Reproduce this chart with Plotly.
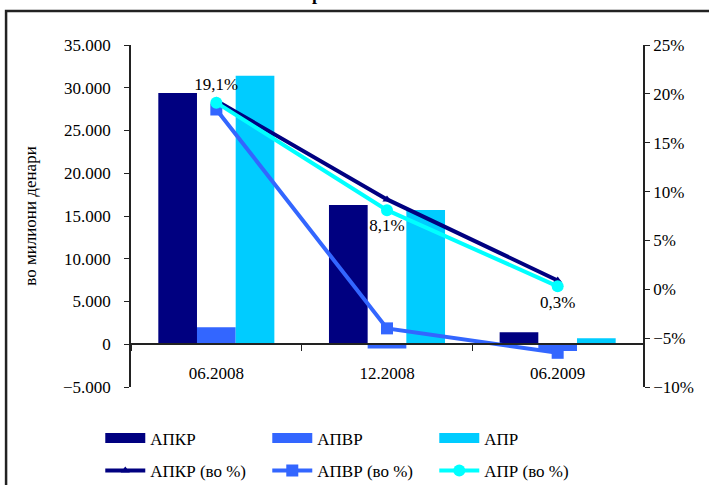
import plotly.graph_objects as go

# Periods and series
periods = ["06.2008", "12.2008", "06.2009"]

# Amounts, in millions of denars
apkr = [29400, 16300, 1400]
apvr = [2000, -500, -800]
apr = [31400, 15700, 700]

# Growth rates, in percent
apkr_pct = [19.3, 9.2, 0.9]
apvr_pct = [18.4, -4.0, -6.5]
apr_pct = [19.1, 8.1, 0.3]

bar_names = ["АПКР", "АПВР", "АПР"]
line_names = ["АПКР (во %)", "АПВР (во %)", "АПР (во %)"]

NAVY = "#000080"
BLUE = "#3366FF"
SKY = "#00CCFF"
CYAN = "#00FFFF"
FONT = "Liberation Serif"

fig = go.Figure()

# Bars on the left axis (legend shown through wide swatches below)
for name, vals, col in zip(bar_names, [apkr, apvr, apr], [NAVY, BLUE, SKY]):
    fig.add_trace(go.Bar(
        x=periods, y=vals, name=name, marker=dict(color=col, line=dict(width=0)),
        showlegend=False, legendgroup=name, yaxis="y",
    ))

# Wide rectangular legend swatches for the bar series
for name, col in zip(bar_names, [NAVY, BLUE, SKY]):
    fig.add_trace(go.Scatter(
        x=[None], y=[None], mode="lines", name=name, legendgroup=name,
        line=dict(color=col, width=12), legend="legend", hoverinfo="skip",
    ))

# Percentage lines on the right axis
fig.add_trace(go.Scatter(
    x=periods, y=apkr_pct, name=line_names[0], yaxis="y2", mode="lines+markers",
    line=dict(color=NAVY, width=4),
    marker=dict(symbol="triangle-up", size=8, color=NAVY),
    legend="legend2",
))
fig.add_trace(go.Scatter(
    x=periods, y=apvr_pct, name=line_names[1], yaxis="y2", mode="lines+markers",
    line=dict(color=BLUE, width=4),
    marker=dict(symbol="square", size=12, color=BLUE),
    legend="legend2",
))
fig.add_trace(go.Scatter(
    x=periods, y=apr_pct, name=line_names[2], yaxis="y2", mode="lines+markers+text",
    line=dict(color=CYAN, width=4),
    marker=dict(symbol="circle", size=12, color=CYAN),
    texttemplate="%{y:.1f}%",
    textposition=["top center", "bottom center", "bottom center"],
    textfont=dict(family=FONT, size=17, color="black"),
    cliponaxis=False,
    legend="legend2",
))

axis_font = dict(family=FONT, size=17, color="black")
legend_font = dict(family=FONT, size=17, color="black")

fig.update_layout(
    width=709, height=485, autosize=False,
    margin=dict(l=131, r=66, t=45, b=98, pad=0, autoexpand=False),
    paper_bgcolor="white", plot_bgcolor="white",
    separators=",.",
    font=dict(family=FONT, size=17, color="black"),
    barmode="group", bargap=0.32, bargroupgap=0,
    xaxis=dict(
        type="category", range=[-0.5, 2.5],
        anchor="free", position=0.125,
        showline=True, linecolor="#222", linewidth=1.5,
        ticks="outside", tickson="boundaries", ticklen=6, tickcolor="#222",
        tickfont=axis_font, ticklabelstandoff=14,
        showgrid=False, zeroline=False,
    ),
    yaxis=dict(
        range=[-5000, 35000], dtick=5000, tickformat=",.0f",
        showline=True, linecolor="#222", linewidth=1.5,
        ticks="outside", ticklen=5, tickcolor="#222", tickfont=axis_font,
        ticklabelstandoff=10,
        showgrid=False, zeroline=False,
        title=dict(text="во милиони денари", font=axis_font, standoff=22),
    ),
    yaxis2=dict(
        overlaying="y", side="right", range=[-10, 25], dtick=5, ticksuffix="%",
        showline=True, linecolor="#222", linewidth=1.5,
        ticks="outside", ticklen=5, tickcolor="#222", tickfont=axis_font,
        showgrid=False, zeroline=False,
    ),
    legend=dict(
        orientation="h", x=-0.06, xanchor="left", y=-0.098, yanchor="top",
        entrywidth=112, itemwidth=40, font=legend_font,
        bgcolor="rgba(0,0,0,0)", traceorder="normal",
    ),
    legend2=dict(
        orientation="h", x=-0.06, xanchor="left", y=-0.193, yanchor="top",
        entrywidth=112, itemwidth=40, font=legend_font,
        bgcolor="rgba(0,0,0,0)", traceorder="normal",
    ),
    shapes=[
        # chart frame
        dict(type="rect", xref="paper", yref="paper",
             x0=-0.244, x1=1.2, y0=-0.35, y1=1.0994,
             line=dict(color="#222", width=2.5), fillcolor="rgba(0,0,0,0)", layer="below"),
    ],
    annotations=[
        dict(text="<b>р</b>", xref="paper", yref="paper", x=0.363, y=1.115,
             xanchor="center", yanchor="bottom", showarrow=False,
             font=dict(family=FONT, size=18, color="black")),
    ],
)

fig.write_html("out.html")
